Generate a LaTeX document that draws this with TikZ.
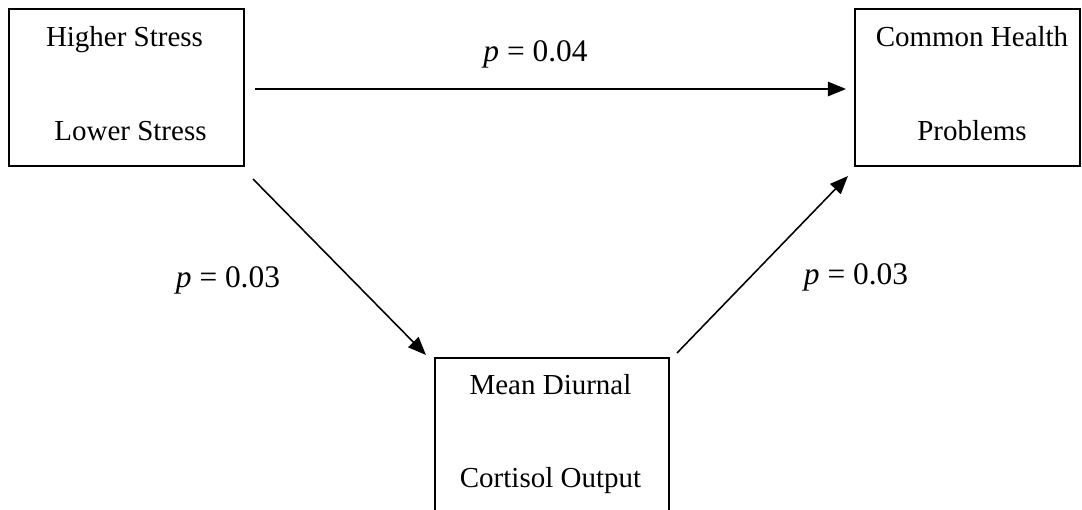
\documentclass[tikz,border=0pt]{standalone}
\usepackage{fontspec}
\setmainfont{Liberation Serif}
\usetikzlibrary{arrows.meta}
\begin{document}
\begin{tikzpicture}[x=0.414pt,y=-0.414pt,
  boxnode/.style={draw,line width=0.85pt,rectangle,inner sep=0pt},
  boxtext/.style={anchor=base,inner sep=0pt,font=\fontsize{12pt}{14pt}\selectfont},
  plabel/.style={anchor=base,inner sep=0pt,font=\fontsize{13pt}{15pt}\selectfont},
  conn/.style={line width=0.65pt,-{Triangle[length=7.5pt,width=6pt]}}]
\useasboundingbox (0,0) rectangle (1082,510);
\clip (0,0) rectangle (1082,510);
\node[boxnode,minimum width=235*0.414pt,minimum height=157*0.414pt] (box1) at (126.5,87.5) {};
\node[boxnode,minimum width=225*0.414pt,minimum height=157*0.414pt] (box2) at (967.5,87.5) {};
\node[boxnode,minimum width=234*0.414pt,minimum height=157*0.414pt] (box3) at (552,436.5) {};
\node[boxtext] (t1a) at (124.5,46.7) {Higher Stress};
\node[boxtext] (t1b) at (130.5,141) {Lower Stress};
\node[boxtext] (t2a) at (972,46.7) {Common Health};
\node[boxtext] (t2b) at (972,141) {Problems};
\node[boxtext] (t3a) at (550.5,395) {Mean Diurnal};
\node[boxtext] (t3b) at (550.5,488) {Cortisol Output};
\node[plabel] (p1) at (535.5,62) {\textit{p} = 0.04};
\node[plabel] (p2) at (228,288) {\textit{p} = 0.03};
\node[plabel] (p3) at (856,285) {\textit{p} = 0.03};
\draw[conn] ([xshift=10*0.414pt,yshift=-1.5*0.414pt]box1.east) -- ([xshift=-8*0.414pt,yshift=-1.5*0.414pt]box2.west);
\draw[conn] ([shift={(8,12)}]box1.south east) -- ([shift={(-8,-2)}]box3.north west);
\draw[conn] ([shift={(7,-4)}]box3.north east) -- ([shift={(-6,9)}]box2.south west);
\end{tikzpicture}
\end{document}
